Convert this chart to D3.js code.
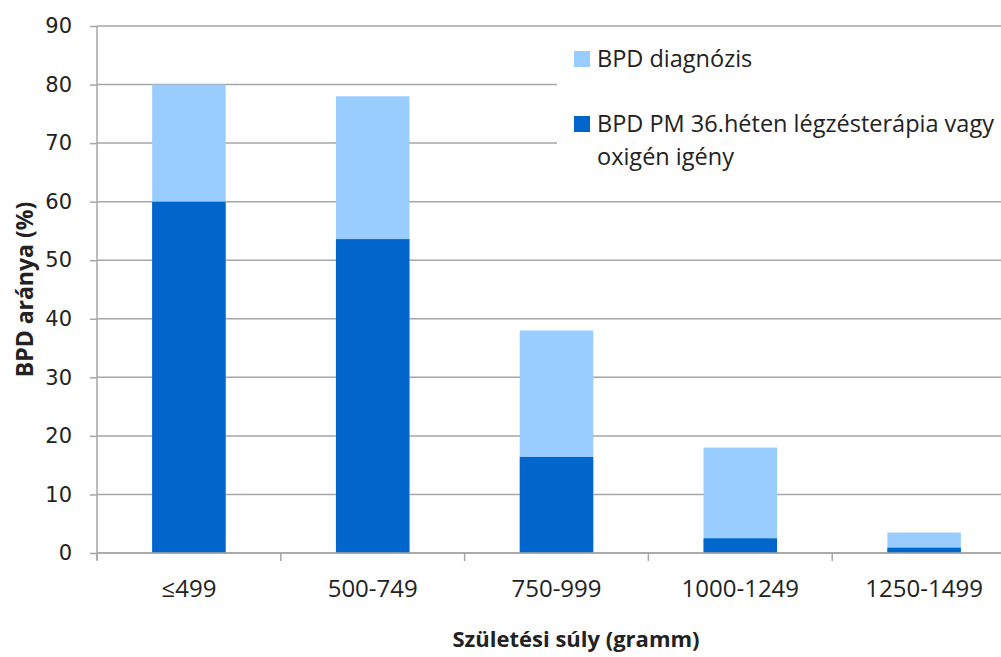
<!DOCTYPE html>
<html><head><meta charset="utf-8">
<script src="https://cdn.jsdelivr.net/npm/d3@7"></script>
<style>body{margin:0;background:#fff}svg{display:block}</style>
</head><body>
<svg id="c" width="1001" height="657"></svg>
<script>
const categories = ["≤499","500-749","750-999","1000-1249","1250-1499"];
const bpdDiagnosis = [80, 78, 38, 18, 3.5];
const bpdPM36 = [60, 53.6, 16.4, 2.5, 0.9];
const yTicks = [0,10,20,30,40,50,60,70,80,90];
const seriesNames = ["BPD diagnózis", "BPD PM 36.héten légzésterápia vagy oxigén igény"];
const colors = ["#99CCFF", "#0066CC"];

const svg = d3.select("#c");
const pLeft = 97, pRight = 1016, pTop = 26, pBottom = 553;
const x = d3.scaleBand().domain(categories).range([pLeft, pRight]).paddingInner(0.6).paddingOuter(0.3);
const xT = d3.scaleBand().domain(categories).range([pLeft, pRight]);
const y = d3.scaleLinear().domain([0, 90]).range([pBottom, pTop]);
const txt = "#222";

// gridlines
svg.append("g").selectAll("line").data(yTicks).join("line")
  .attr("x1", pLeft).attr("x2", 1001).attr("y1", d => y(d)).attr("y2", d => y(d))
  .attr("stroke", "#a6a6a6").attr("stroke-width", 1.5);

// y axis
const ya = svg.append("g").attr("transform", `translate(${pLeft},0)`)
  .call(d3.axisLeft(y).tickValues(yTicks).tickSize(7).tickPadding(18));
ya.select(".domain").attr("stroke", "#a6a6a6").attr("stroke-width", 1.5).attr("d", `M0,${pTop}V${pBottom+7}`);
ya.selectAll(".tick line").attr("stroke", "#a6a6a6").attr("stroke-width", 1.5);
ya.selectAll("text").attr("font-family", "DejaVu Sans, Verdana, sans-serif").attr("font-size", 21).attr("fill", txt);

// bars
svg.append("g").selectAll("rect").data(categories).join("rect")
  .attr("x", d => x(d)).attr("width", x.bandwidth())
  .attr("y", (d,i) => y(bpdDiagnosis[i])).attr("height", (d,i) => pBottom - y(bpdDiagnosis[i]))
  .attr("fill", colors[0]);
svg.append("g").selectAll("rect").data(categories).join("rect")
  .attr("x", d => x(d)).attr("width", x.bandwidth())
  .attr("y", (d,i) => y(bpdPM36[i])).attr("height", (d,i) => pBottom - y(bpdPM36[i]))
  .attr("fill", colors[1]);

// x axis
const xa = svg.append("g").attr("transform", `translate(0,${pBottom})`)
  .call(d3.axisBottom(xT).tickSize(0).tickPadding(27));
xa.select(".domain").attr("stroke", "#a6a6a6").attr("stroke-width", 1.5).attr("d", `M${pLeft},0H1001`);
xa.selectAll("text").attr("font-family", "Open Sans, sans-serif").attr("font-size", 24).attr("fill", txt);
svg.append("g").selectAll("line").data(d3.range(categories.length + 1)).join("line")
  .attr("x1", i => pLeft + i*xT.bandwidth()).attr("x2", i => pLeft + i*xT.bandwidth())
  .attr("y1", pBottom).attr("y2", pBottom + 8).attr("stroke", "#a6a6a6").attr("stroke-width", 1.5);

// axis titles
svg.append("text").attr("x", 576).attr("y", 647).attr("text-anchor", "middle")
  .attr("font-family", "Open Sans, sans-serif").attr("font-weight", "bold").attr("font-size", 22)
  .attr("fill", txt).text("Születési súly (gramm)");
svg.append("text").attr("transform", `translate(33,${(pTop+pBottom)/2}) rotate(-90)`).attr("text-anchor", "middle")
  .attr("font-family", "Open Sans, sans-serif").attr("font-weight", "bold").attr("font-size", 23)
  .attr("fill", txt).text("BPD aránya (%)");

// legend
const lg = svg.append("g");
lg.append("rect").attr("x", 557).attr("y", 36).attr("width", 444).attr("height", 152).attr("fill", "#fff");
lg.append("rect").attr("x", 574).attr("y", 51).attr("width", 16).attr("height", 16).attr("fill", colors[0]);
lg.append("rect").attr("x", 574).attr("y", 116).attr("width", 16).attr("height", 16).attr("fill", colors[1]);
const lf = "Open Sans, sans-serif";
lg.append("text").attr("x", 597).attr("y", 67).attr("font-family", lf).attr("font-size", 23.5).attr("fill", txt).text(seriesNames[0]);
const t2 = lg.append("text").attr("font-family", lf).attr("font-size", 23.5).attr("fill", txt);
t2.append("tspan").attr("x", 597).attr("y", 132).text("BPD PM 36.héten légzésterápia vagy");
t2.append("tspan").attr("x", 597).attr("y", 165).text("oxigén igény");
</script>
</body></html>
